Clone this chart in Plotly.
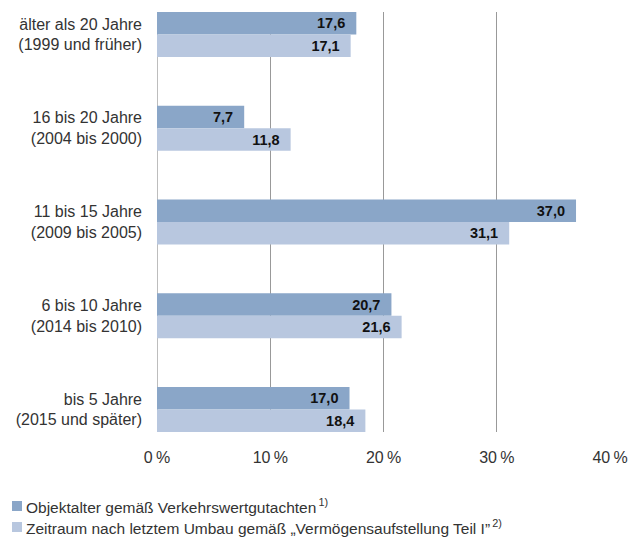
import plotly.graph_objects as go

# Age groups (top to bottom) and shares in percent
categories = [
    "älter als 20 Jahre<br>(1999 und früher)",
    "16 bis 20 Jahre<br>(2004 bis 2000)",
    "11 bis 15 Jahre<br>(2009 bis 2005)",
    "6 bis 10 Jahre<br>(2014 bis 2010)",
    "bis 5 Jahre<br>(2015 und später)",
]
objektalter = [17.6, 7.7, 37.0, 20.7, 17.0]
umbau = [17.1, 11.8, 31.1, 21.6, 18.4]
x_ticks = [0, 10, 20, 30, 40]
x_ticktext = ["0\u2009%", "10\u2009%", "20\u2009%", "30\u2009%", "40\u2009%"]

series_names = [
    "Objektalter gemäß Verkehrswertgutachten<sup>\u20091)</sup>",
    "Zeitraum nach letztem Umbau gemäß \u201eVermögensaufstellung Teil I\u201d<sup>\u20092)</sup>",
]
colors = ["#8aa6c8", "#b8c7df"]

FONT = "Liberation Sans, Arial, sans-serif"
W, H = 630, 538
ML, MR, MT, MB = 157, 20, 12, 106


def de(v):
    return f"{v:.1f}".replace(".", ",")


pos = list(range(len(categories)))

fig = go.Figure()
for name, vals, col in zip(series_names, [objektalter, umbau], colors):
    fig.add_trace(go.Bar(
        y=pos, x=vals, orientation="h", name=name,
        marker=dict(color=col, line=dict(width=0)),
        text=[de(v) + "\u00a0\u00a0" for v in vals],
        textposition="inside", insidetextanchor="end", textangle=0,
        textfont=dict(family="Liberation Sans, Arial, sans-serif", size=14.5,
                      color="#111", weight="bold"),
        constraintext="none", showlegend=False,
    ))

fig.update_layout(
    width=W, height=H,
    margin=dict(l=ML, r=MR, t=MT, b=MB, autoexpand=False),
    barmode="group", bargap=0.52, bargroupgap=0,
    plot_bgcolor="white", paper_bgcolor="white",
    font=dict(family=FONT, size=16, color="#333"),
    xaxis=dict(
        range=[0, 40], tickvals=x_ticks, ticktext=x_ticktext,
        showgrid=True, gridcolor="#999999", gridwidth=1.3,
        zeroline=False, showline=False, ticks="", automargin=False,
        ticklabelstandoff=14, tickangle=0,
        tickfont=dict(size=16, color="#333"),
    ),
    yaxis=dict(
        range=[4.24, -0.24], tickvals=pos, ticktext=categories,
        showgrid=False, zeroline=False, showline=False,
        ticks="", automargin=False, ticklabelstandoff=14,
        tickfont=dict(size=16, color="#333"),
    ),
    showlegend=False,
)

# Axis line at 0 %
fig.add_shape(type="line", xref="x", yref="paper", x0=0, x1=0, y0=0, y1=1,
              line=dict(color="#999999", width=1.3), layer="below")

# Legend below the chart: colour swatches with their labels
pw = W - ML - MR
ph = H - MT - MB
for i, (name, col) in enumerate(zip(series_names, colors)):
    cy = 506 + i * 21  # pixel row of the entry centre
    yc = (H - MB - cy) / ph
    x0 = (12 - ML) / pw
    x1 = (22 - ML) / pw
    half = 5 / ph
    fig.add_shape(type="rect", xref="paper", yref="paper",
                  x0=x0, x1=x1, y0=yc - half, y1=yc + half,
                  fillcolor=col, line=dict(width=0))
    fig.add_annotation(xref="paper", yref="paper", x=(24 - ML) / pw, y=yc,
                       xanchor="left", yanchor="middle", text=name,
                       showarrow=False, font=dict(size=15.5, color="#333"))

fig.write_html("out.html")
